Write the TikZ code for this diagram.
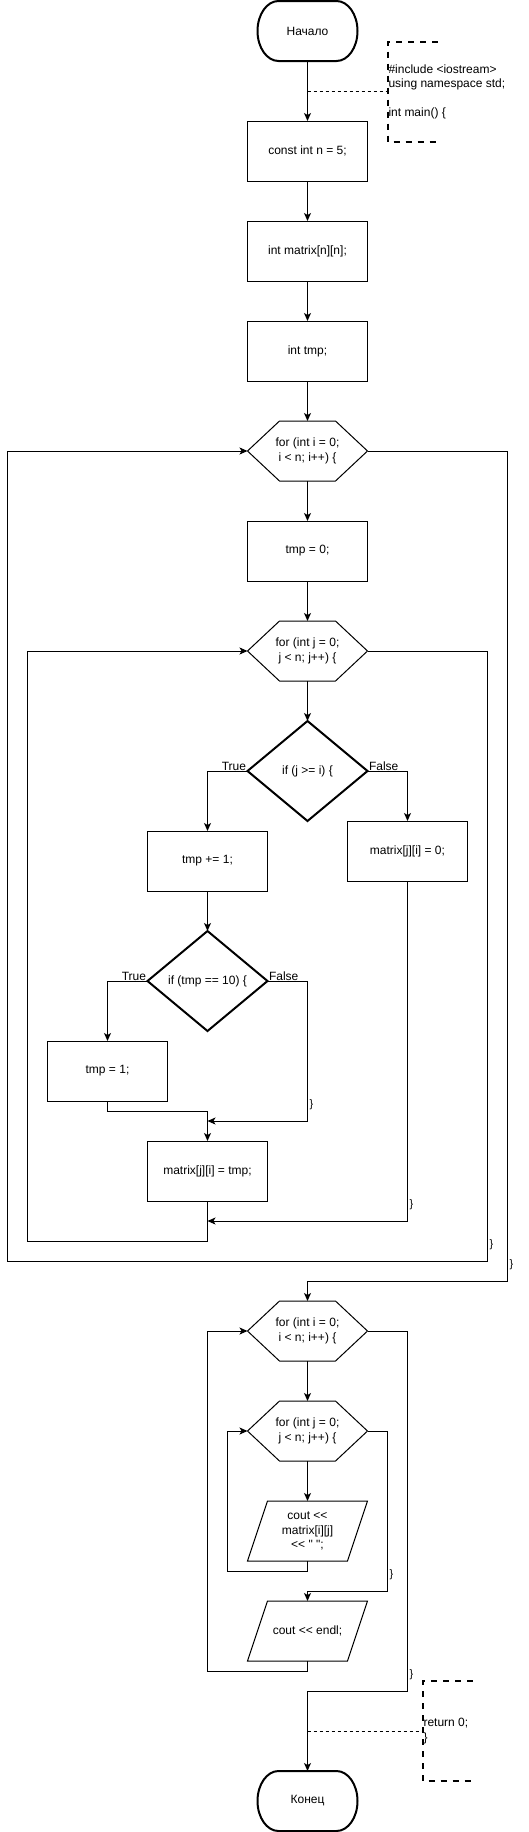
\documentclass[tikz,border=0pt]{standalone}
\usepackage{fontspec}
\newfontfamily\lsans{Liberation Sans}
\usetikzlibrary{arrows.meta}
\newcommand\termshape[1]{\draw[line width=2pt] ([xshift=21pt]#1.north west) -- ([xshift=-21pt]#1.north east) arc[start angle=90,end angle=-90,x radius=21pt,y radius=30pt] -- ([xshift=21pt]#1.south west) arc[start angle=270,end angle=90,x radius=21pt,y radius=30pt] -- cycle;}
\newcommand\hexshape[1]{\draw[line width=1pt] (#1.west) -- ([xshift=32pt]#1.north west) -- ([xshift=-32pt]#1.north east) -- (#1.east) -- ([xshift=-32pt]#1.south east) -- ([xshift=32pt]#1.south west) -- cycle;}
\newcommand\diashape[1]{\draw[line width=2pt,line join=miter] (#1.north) -- (#1.east) -- (#1.south) -- (#1.west) -- cycle;}
\newcommand\parashape[1]{\draw[line width=1pt] ([xshift=20pt]#1.north west) -- (#1.north east) -- ([xshift=-20pt]#1.south east) -- (#1.south west) -- cycle;}
\begin{document}
\begin{tikzpicture}[x=1pt,y=1pt,
  every node/.style={font=\lsans\fontsize{12}{14.4}\selectfont, inner sep=0pt, outer sep=0pt},
  box/.style={draw, line width=1pt, minimum width=120pt, minimum height=60pt, align=center},
  shapebox/.style={minimum width=120pt, minimum height=60pt, align=center},
  diabox/.style={minimum width=120pt, minimum height=100pt, align=center},
  termbox/.style={minimum width=100pt, minimum height=60pt, align=center},
  conn/.style={line width=1pt, -{Stealth[length=8pt,width=7pt,inset=2pt]}},
  cmt/.style={line width=2pt, dash pattern=on 6pt off 6pt},
  dotc/.style={line width=1pt, dash pattern=on 3pt off 3pt},
  brace/.style={font=\lsans\fontsize{11}{13}\selectfont, anchor=west},
  lblL/.style={anchor=base east},
  lblR/.style={anchor=base west}
]
\fill[white] (0,0) rectangle (528,-1832);
\useasboundingbox (0,0) rectangle (528,-1832);

% nodes
\node[termbox] (start) at (307.5,-31) {Начало};
\node[box] (b1) at (307.5,-151) {const int n = 5;};
\node[box] (b2) at (307.5,-251) {int matrix[n][n];};
\node[box] (b3) at (307.5,-351) {int tmp;};
\node[shapebox] (hi) at (307.5,-451) {for (int i = 0;\\i < n; i++) \{};
\node[box] (t0) at (307.5,-551) {tmp = 0;};
\node[shapebox] (hj) at (307.5,-651) {for (int j = 0;\\j < n; j++) \{};
\node[diabox] (d1) at (307.5,-771) {if (j >= i) \{};
\node[box] (p1) at (207.5,-861) {tmp += 1;};
\node[box] (m0) at (407.5,-851) {matrix[j][i] = 0;};
\node[diabox] (d2) at (207.5,-981) {if (tmp == 10) \{};
\node[box] (t1) at (107.5,-1071) {tmp = 1;};
\node[box] (mt) at (207.5,-1171) {matrix[j][i] = tmp;};
\node[shapebox] (hi2) at (307.5,-1331) {for (int i = 0;\\i < n; i++) \{};
\node[shapebox] (hj2) at (307.5,-1431) {for (int j = 0;\\j < n; j++) \{};
\node[shapebox] (o1) at (307.5,-1531) {cout <<\\matrix[i][j]\\<< " ";};
\node[shapebox] (o2) at (307.5,-1631) {cout << endl;};
\node[termbox] (end) at (307.5,-1801) {Конец};

\termshape{start}
\termshape{end}
\hexshape{hi}
\hexshape{hj}
\hexshape{hi2}
\hexshape{hj2}
\diashape{d1}
\diashape{d2}
\parashape{o1}
\parashape{o2}

% comments
\node[anchor=west, align=left] (c1t) at (388.5,-91.5) {\#include <iostream>\\using namespace std;\\\mbox{}\\int main() \{};
\draw[cmt] (437.5,-41.5) -- (387.5,-41.5) -- (387.5,-141.5) -- (437.5,-141.5);
\coordinate (k0) at (307.5,-91.5);
\coordinate (k1) at (387.5,-91.5);
\draw[dotc] (k0) -- (k1);

\node[anchor=west, align=left] (c2t) at (423.5,-1731) {return 0;\\\}};
\draw[cmt] (472.5,-1681) -- (422.5,-1681) -- (422.5,-1781) -- (472.5,-1781);
\coordinate (k2) at (307.5,-1731);
\coordinate (k3) at (422.5,-1731);
\draw[dotc] (k2) -- (k3);

% coordinates for routing
\coordinate (f2c) at (307.5,-1121);
\coordinate (j1) at (207.5,-1121);
\coordinate (j2) at (207.5,-1221);
\coordinate (c1) at (27.5,-1241);
\coordinate (c2) at (487.5,-1261);
\coordinate (c3) at (7.5,-1261);
\coordinate (c4) at (507.5,-1281);
\coordinate (c5) at (227.5,-1571);
\coordinate (c6) at (387.5,-1591);
\coordinate (c7) at (207.5,-1671);
\coordinate (c8) at (407.5,-1691);

% connectors
\draw[conn] (start.south) -- (b1.north);
\draw[conn] (b1.south) -- (b2.north);
\draw[conn] (b2.south) -- (b3.north);
\draw[conn] (b3.south) -- (hi.north);
\draw[conn] (hi.south) -- (t0.north);
\draw[conn] (t0.south) -- (hj.north);
\draw[conn] (hj.south) -- (d1.north);
\draw[conn] (d1.west) -| (p1.north);
\draw[conn] (d1.east) -| (m0.north);
\draw[conn] (p1.south) -- (d2.north);
\draw[conn] (d2.west) -| (t1.north);
\draw[conn] (d2.east) -| (f2c) -- (j1);
\draw[conn] (t1.south) -- ++(0,-10) -| (mt.north);
\draw[conn] (m0.south) |- (j2);
\draw[conn] (mt.south) |- (c1) |- (hj.west);
\draw[conn] (hj.east) -| (c2) -- (c3) |- (hi.west);
\draw[conn] (hi.east) -| (c4) -| (hi2.north);
\draw[conn] (hi2.south) -- (hj2.north);
\draw[conn] (hj2.south) -- (o1.north);
\draw[conn] (o1.south) |- (c5) |- (hj2.west);
\draw[conn] (hj2.east) -| (c6) -| (o2.north);
\draw[conn] (o2.south) |- (c7) |- (hi2.west);
\draw[conn] (hi2.east) -| (c8) -| (end.north);

% labels
\node[lblL] (lt1) at (246,-770) {True};
\node[lblR] (lf1) at (369,-770) {False};
\node[lblL] (lt2) at (146,-980) {True};
\node[lblR] (lf2) at (269,-980) {False};

\node[brace] (r1) at (309.5,-1104.5) {\}};
\node[brace] (r2) at (409.5,-1204.5) {\}};
\node[brace] (r3) at (489.5,-1244.5) {\}};
\node[brace] (r4) at (509.5,-1264.5) {\}};
\node[brace] (r5) at (389.5,-1574.5) {\}};
\node[brace] (r6) at (409.5,-1674.5) {\}};
\end{tikzpicture}
\end{document}
